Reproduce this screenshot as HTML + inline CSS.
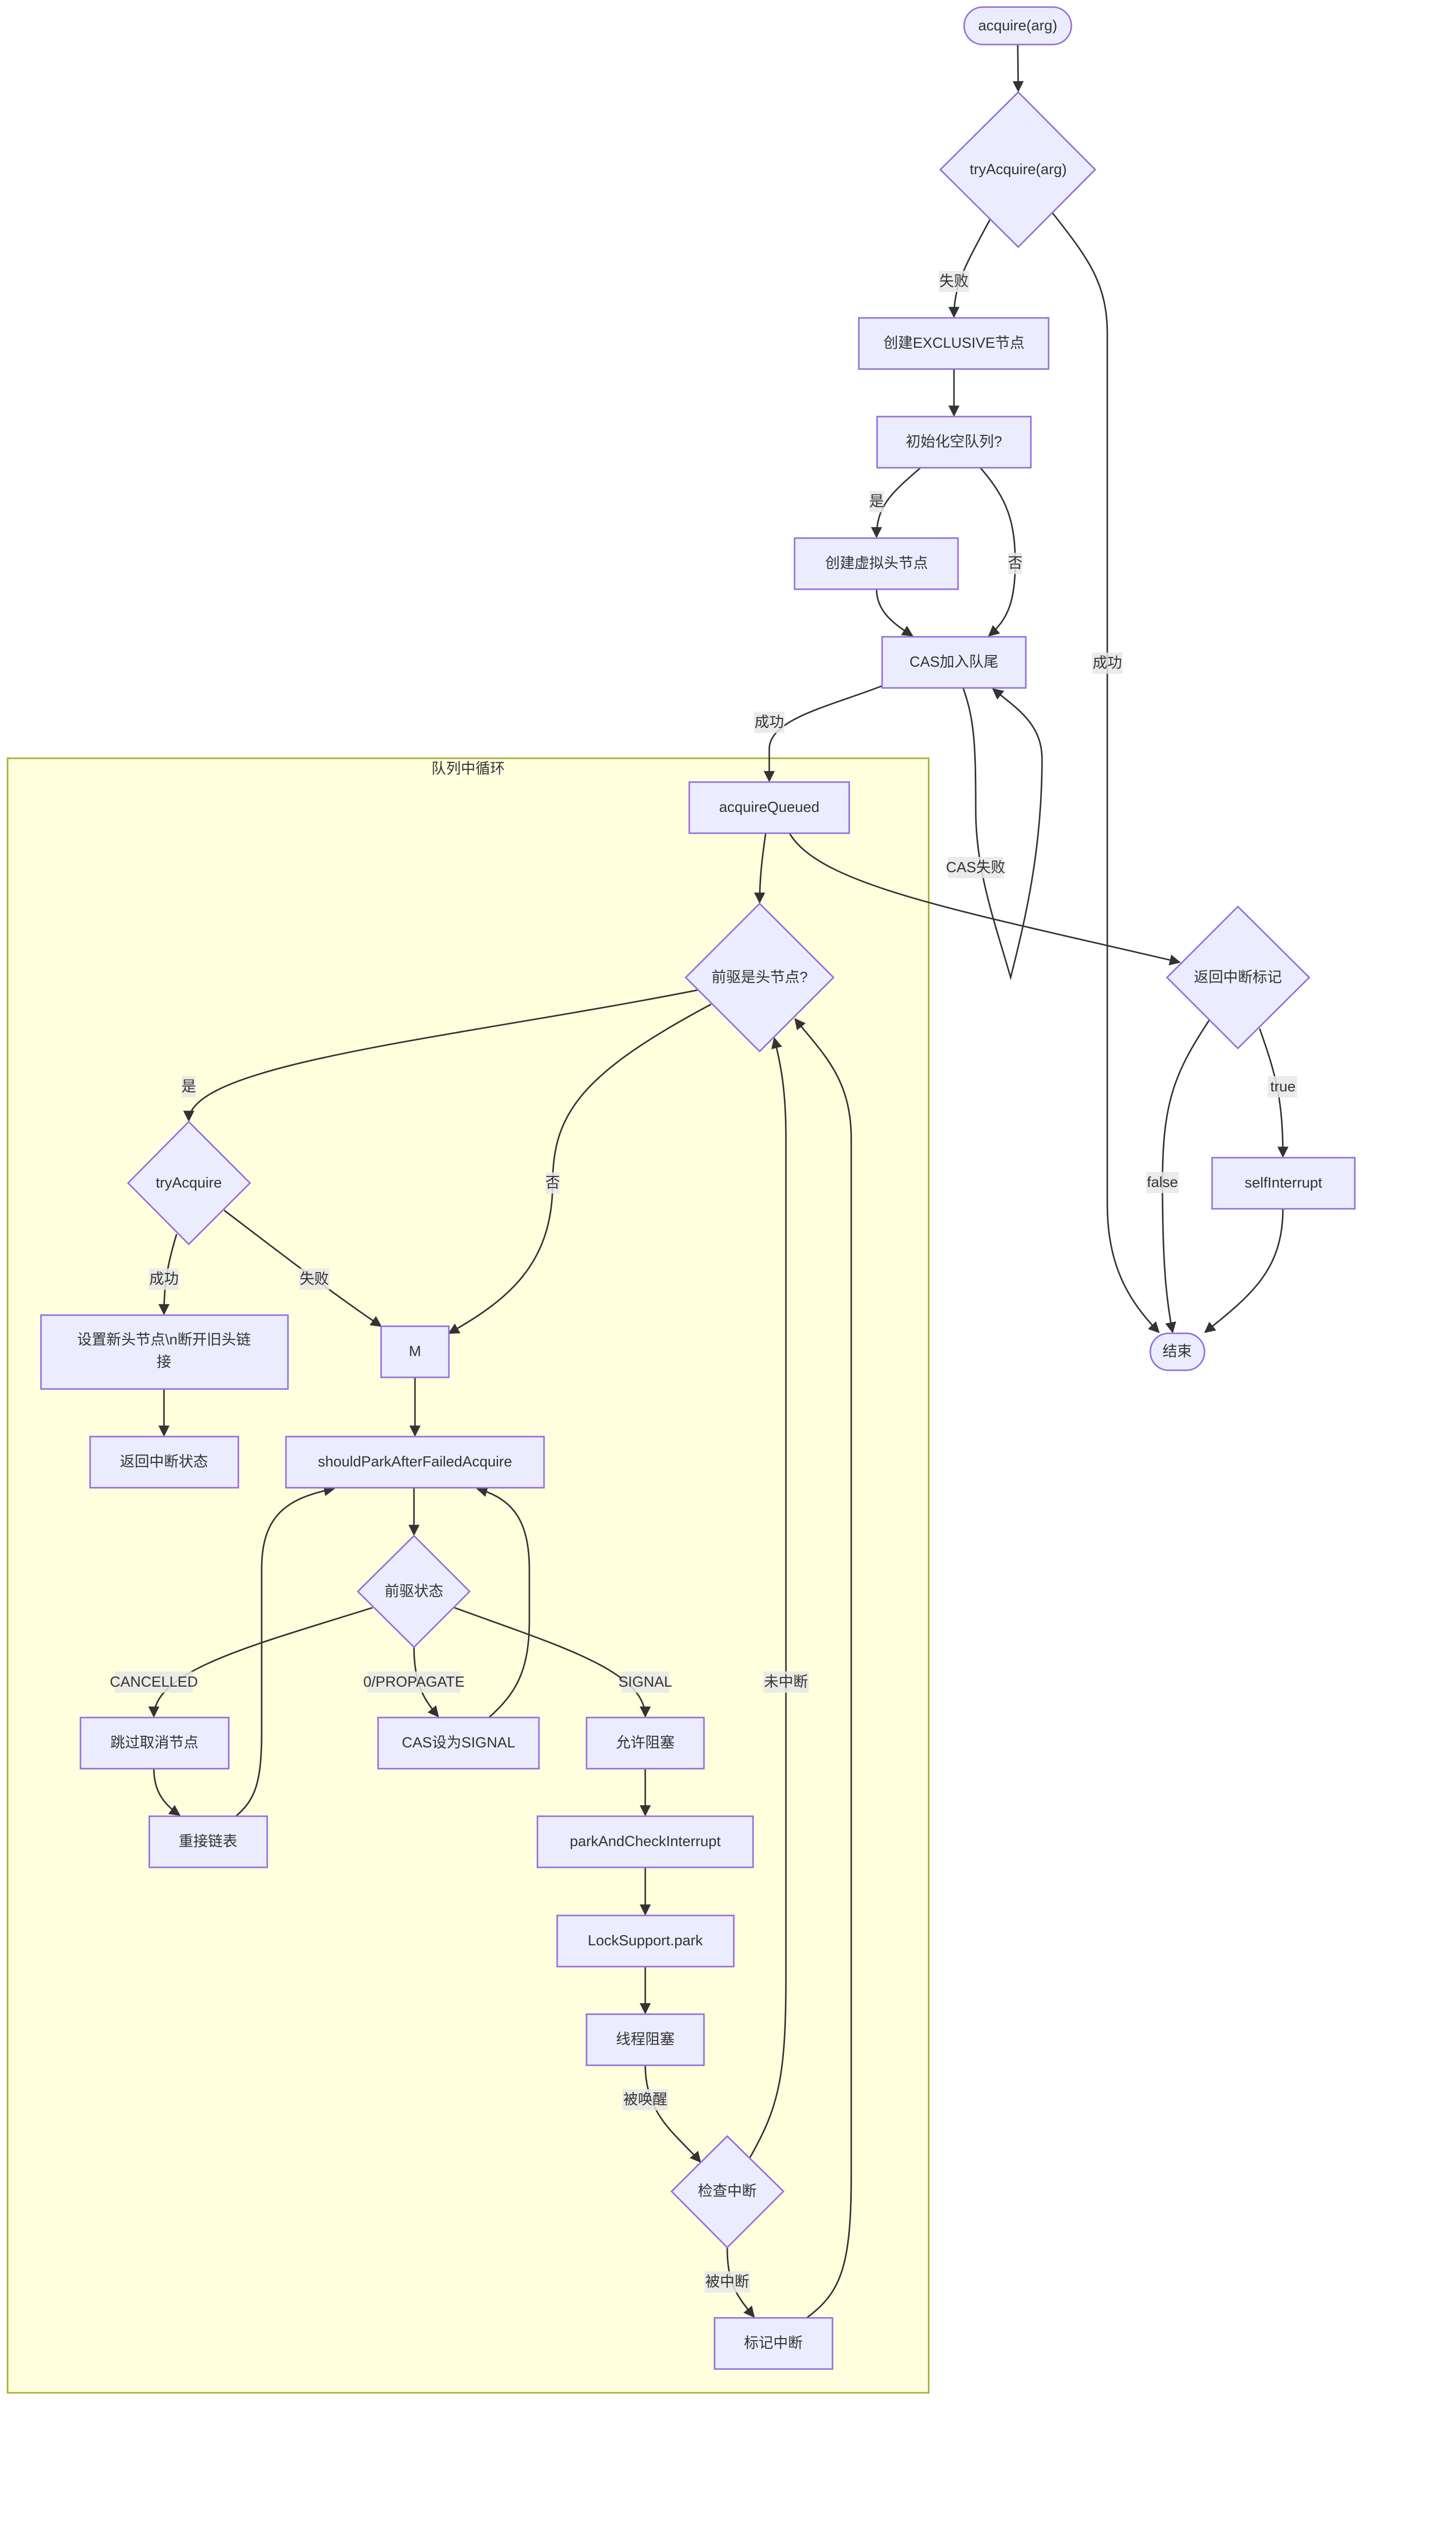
<!DOCTYPE html>
<html><head><meta charset="utf-8"><style>
html,body{margin:0;padding:0;background:#fff;width:2877px;height:5062px;overflow:hidden;}
svg{display:block;}
text{font-family:"Liberation Sans","Noto Sans CJK SC",sans-serif;font-size:29px;fill:#333;text-anchor:middle;dominant-baseline:central;}
.n{fill:#ECECFF;stroke:#9370DB;stroke-width:3;}
.e{fill:none;stroke:#333;stroke-width:3;}
.lb{fill:rgba(232,232,232,0.85);}
</style></head><body>
<svg width="2877" height="5062" viewBox="0 0 2877 5062" xmlns="http://www.w3.org/2000/svg">
<defs>
<marker id="a" viewBox="0 0 10 10" refX="9" refY="5" markerUnits="userSpaceOnUse" markerWidth="22" markerHeight="22" orient="auto"><path d="M0,0L10,5L0,10z" fill="#333"/></marker>
</defs>
<rect x="15" y="1498" width="1820" height="3229" fill="#FFFFDE" stroke="#AAAA33" stroke-width="3"/>
<text x="925" y="1519">队列中循环</text>

<g class="e" marker-end="url(#a)">
<path d="M2011,88 L2012,180"/>
<path d="M1956,434 C1910,520 1885,560 1885,626"/>
<path d="M2080,421 C2150,510 2188,560 2188,660 L2188,2380 C2188,2500 2230,2570 2290,2632"/>
<path d="M1885,729 L1885,821"/>
<path d="M1819,924 C1760,975 1732,1000 1732,1061"/>
<path d="M1937,924 C1990,985 2006,1030 2006,1113 C2006,1190 1990,1225 1954,1256"/>
<path d="M1732,1164 C1732,1210 1770,1235 1803,1256"/>
<path d="M1743,1355 C1640,1395 1520,1420 1520,1480 L1520,1543"/>
<path d="M1903,1359 C1925,1420 1928,1470 1928,1600 C1928,1720 1965,1820 1997,1931 C2025,1820 2059,1680 2059,1500 C2059,1430 2010,1400 1962,1361"/>
<path d="M1513,1646 C1505,1700 1501,1740 1501,1783"/>
<path d="M1560,1646 C1620,1750 1900,1800 2331,1901"/>
<path d="M1378,1956 C900,2050 373,2100 373,2214"/>
<path d="M1405,1984 C1150,2120 1092,2200 1092,2337 C1092,2500 1000,2570 887,2634"/>
<path d="M349,2438 C330,2500 324,2540 324,2596"/>
<path d="M443,2391 C560,2480 650,2550 753,2620"/>
<path d="M324,2744 L324,2836"/>
<path d="M820,2721 L820,2836"/>
<path d="M818,2939 L818,3032"/>
<path d="M736,3176 C500,3250 304,3300 304,3391"/>
<path d="M818,3254 C818,3330 840,3360 866,3391"/>
<path d="M898,3176 C1100,3250 1275,3300 1275,3391"/>
<path d="M304,3494 C304,3540 325,3565 355,3586"/>
<path d="M466,3588 C505,3555 517,3520 517,3420 L517,3100 C517,3000 560,2960 660,2941"/>
<path d="M966,3393 C1020,3345 1046,3300 1046,3200 L1046,3100 C1046,3000 1010,2960 943,2941"/>
<path d="M1275,3494 L1275,3586"/>
<path d="M1275,3689 L1275,3782"/>
<path d="M1275,3885 L1275,3977"/>
<path d="M1275,4080 C1275,4180 1340,4220 1384,4271"/>
<path d="M1482,4262 C1540,4160 1553,4100 1553,3900 L1553,2250 C1553,2150 1542,2100 1530,2051"/>
<path d="M1437,4440 C1437,4510 1455,4535 1490,4577"/>
<path d="M1594,4579 C1660,4530 1682,4480 1682,4300 L1682,2250 C1682,2130 1625,2080 1571,2013"/>
<path d="M2489,2032 C2520,2120 2535,2170 2535,2285"/>
<path d="M2389,2016 C2320,2120 2297,2180 2297,2336 C2297,2500 2305,2570 2317,2632"/>
<path d="M2535,2388 C2535,2510 2470,2560 2381,2632"/>
</g>

<rect class="lb" x="1855" y="535" width="60" height="42"/><text x="1885" y="556">失败</text>
<rect class="lb" x="2158" y="1289" width="60" height="42"/><text x="2188" y="1310">成功</text>
<rect class="lb" x="1718" y="970" width="28" height="42"/><text x="1732" y="991">是</text>
<rect class="lb" x="1992" y="1092" width="28" height="42"/><text x="2006" y="1113">否</text>
<rect class="lb" x="1490" y="1406" width="60" height="42"/><text x="1520" y="1427">成功</text>
<rect class="lb" x="1873" y="1693" width="110" height="42"/><text x="1928" y="1714">CAS失败</text>
<rect class="lb" x="359" y="2126" width="28" height="42"/><text x="373" y="2147">是</text>
<rect class="lb" x="1078" y="2316" width="28" height="42"/><text x="1092" y="2337">否</text>
<rect class="lb" x="294" y="2506" width="60" height="42"/><text x="324" y="2527">成功</text>
<rect class="lb" x="591" y="2506" width="60" height="42"/><text x="621" y="2527">失败</text>
<rect class="lb" x="227" y="3302" width="154" height="42"/><text x="304" y="3323">CANCELLED</text>
<rect class="lb" x="726" y="3302" width="184" height="42"/><text x="818" y="3323">0/PROPAGATE</text>
<rect class="lb" x="1228" y="3302" width="94" height="42"/><text x="1275" y="3323">SIGNAL</text>
<rect class="lb" x="1508" y="3302" width="90" height="42"/><text x="1553" y="3323">未中断</text>
<rect class="lb" x="1230" y="4127" width="90" height="42"/><text x="1275" y="4148">被唤醒</text>
<rect class="lb" x="1392" y="4487" width="90" height="42"/><text x="1437" y="4508">被中断</text>
<rect class="lb" x="2505" y="2126" width="58" height="42"/><text x="2535" y="2147">true</text>
<rect class="lb" x="2265" y="2315" width="64" height="42"/><text x="2297" y="2336">false</text>

<rect class="n" x="1905" y="14" width="212" height="74" rx="37"/><text x="2011" y="51">acquire(arg)</text>
<polygon class="n" points="2012,182 2164,335 2012,488 1858,335"/><text x="2012" y="335">tryAcquire(arg)</text>
<rect class="n" x="1697" y="628" width="375" height="101"/><text x="1885" y="678">创建EXCLUSIVE节点</text>
<rect class="n" x="1733" y="823" width="304" height="101"/><text x="1885" y="873">初始化空队列?</text>
<rect class="n" x="1570" y="1063" width="323" height="101"/><text x="1732" y="1113">创建虚拟头节点</text>
<rect class="n" x="1743" y="1258" width="284" height="101"/><text x="1885" y="1308">CAS加入队尾</text>
<rect class="n" x="1362" y="1545" width="316" height="101"/><text x="1520" y="1595">acquireQueued</text>
<polygon class="n" points="1501,1785 1647,1931 1501,2077 1355,1931"/><text x="1501" y="1931">前驱是头节点?</text>
<polygon class="n" points="2446,1791 2587,1931 2446,2071 2306,1931"/><text x="2446" y="1931">返回中断标记</text>
<rect class="n" x="2395" y="2287" width="282" height="101"/><text x="2536" y="2337">selfInterrupt</text>
<rect class="n" x="2273" y="2634" width="107" height="73" rx="36"/><text x="2326" y="2670">结束</text>
<polygon class="n" points="373,2216 494,2337 373,2458 253,2337"/><text x="373" y="2337">tryAcquire</text>
<rect class="n" x="81" y="2598" width="488" height="146"/><text x="324" y="2647">设置新头节点\n断开旧头链</text><text x="324" y="2691">接</text>
<rect class="n" x="753" y="2620" width="134" height="101"/><text x="820" y="2670">M</text>
<rect class="n" x="178" y="2838" width="293" height="101"/><text x="324" y="2888">返回中断状态</text>
<rect class="n" x="565" y="2838" width="510" height="101"/><text x="820" y="2888">shouldParkAfterFailedAcquire</text>
<polygon class="n" points="818,3034 928,3144 818,3254 707,3144"/><text x="818" y="3144">前驱状态</text>
<rect class="n" x="159" y="3393" width="293" height="101"/><text x="305" y="3443">跳过取消节点</text>
<rect class="n" x="747" y="3393" width="318" height="101"/><text x="906" y="3443">CAS设为SIGNAL</text>
<rect class="n" x="1159" y="3393" width="232" height="101"/><text x="1275" y="3443">允许阻塞</text>
<rect class="n" x="295" y="3588" width="233" height="101"/><text x="411" y="3638">重接链表</text>
<rect class="n" x="1062" y="3588" width="426" height="101"/><text x="1275" y="3638">parkAndCheckInterrupt</text>
<rect class="n" x="1101" y="3784" width="349" height="101"/><text x="1275" y="3834">LockSupport.park</text>
<rect class="n" x="1159" y="3979" width="232" height="101"/><text x="1275" y="4029">线程阻塞</text>
<polygon class="n" points="1437,4220 1548,4329 1437,4440 1327,4329"/><text x="1437" y="4329">检查中断</text>
<rect class="n" x="1412" y="4579" width="233" height="101"/><text x="1528" y="4629">标记中断</text>
</svg>
</body></html>
